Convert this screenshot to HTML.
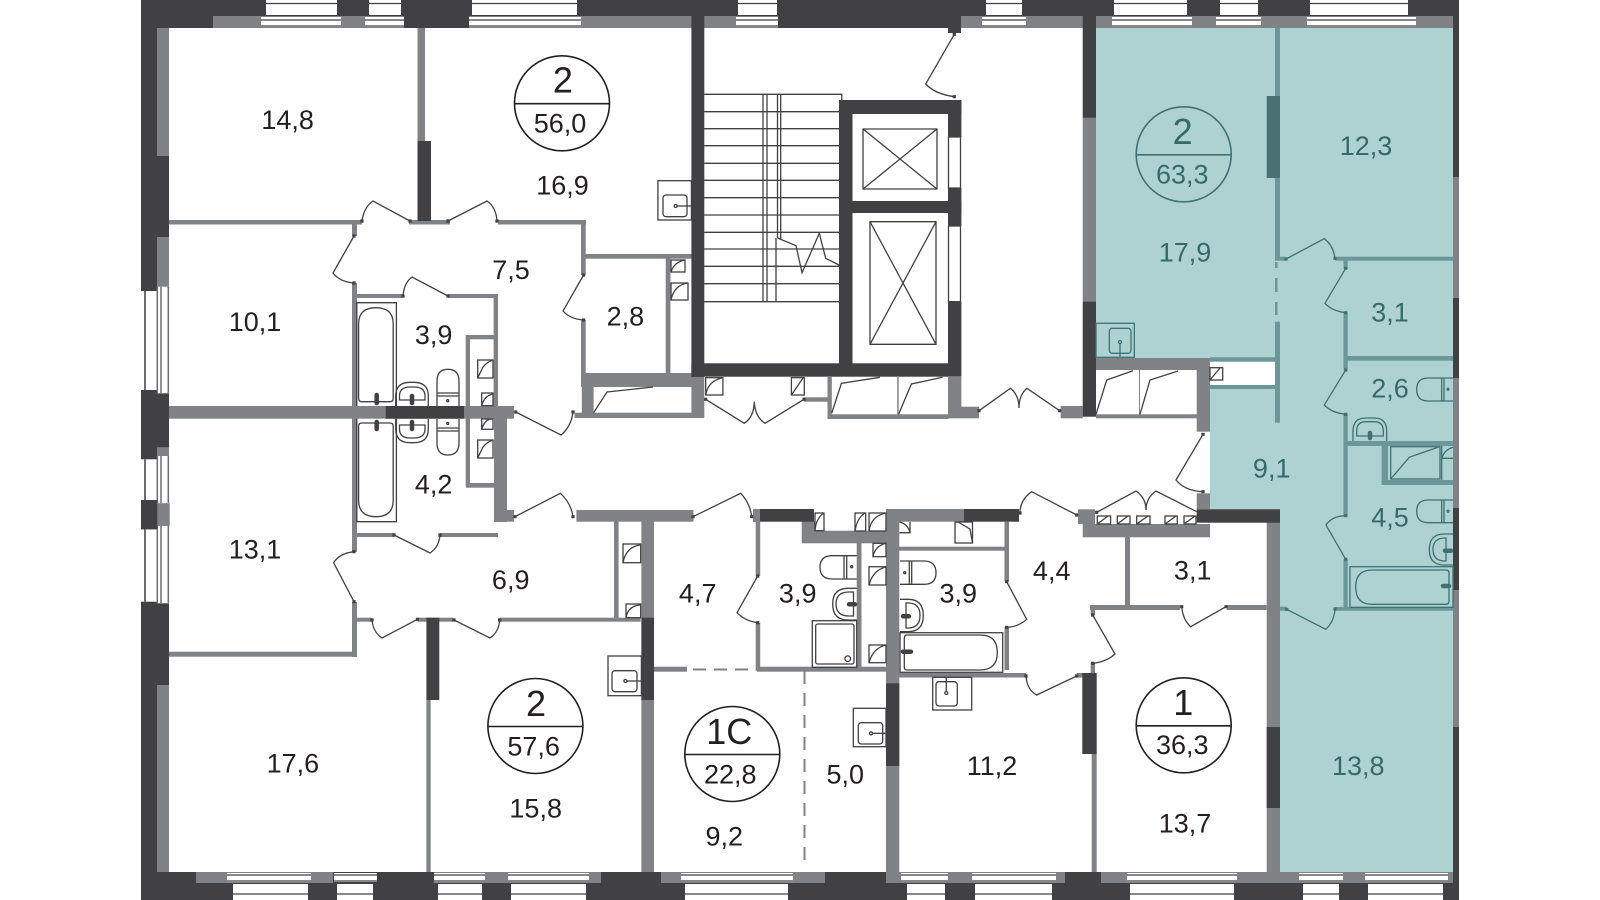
<!DOCTYPE html>
<html lang="ru"><head><meta charset="utf-8"><title>Floor plan</title>
<style>
html,body{margin:0;padding:0;background:#fff}
svg{display:block}
.d{fill:#414042}.g{fill:#808285}.w{fill:#fff}
.t{fill:#6b9798}.td{fill:#4a7071}
text{font-family:"Liberation Sans",sans-serif;font-size:27px;fill:#231f20;text-anchor:middle}
.tt text{fill:#38696a}
text.big{font-size:36px}
.s{fill:none;stroke:#414042;stroke-width:1.3}
.st{fill:none;stroke:#3f7173;stroke-width:1.3}
</style></head><body>
<svg width="1600" height="900" viewBox="0 0 1600 900" xmlns="http://www.w3.org/2000/svg">
<rect width="1600" height="900" fill="#fff"/>
<!-- teal apartment -->
<polygon points="1096,28 1453,28 1453,872 1280,872 1280,510 1210,510 1210,388 1276,388 1276,358 1096,358" fill="#aed2d2"/>

<!-- outer walls -->
<rect class="d" x="141" y="0" width="1318" height="16"/>
<rect class="d" x="141" y="16" width="72" height="12"/>
<rect class="g" x="213" y="16" width="1240" height="12"/>
<rect class="d" x="404" y="16" width="65" height="12"/>
<rect class="d" x="778" y="16" width="183" height="12"/>
<rect class="d" x="948" y="28" width="13" height="5"/>
<rect class="d" x="141" y="0" width="16" height="900"/>
<rect class="g" x="157" y="28" width="12" height="844"/>
<rect class="d" x="157" y="156" width="12" height="81"/>
<rect class="d" x="157" y="390" width="12" height="57.300"/>
<rect class="d" x="157" y="602" width="12" height="83"/>
<rect class="d" x="1453" y="0" width="6" height="28"/>
<rect class="g" x="1453" y="28" width="6" height="844"/>
<rect class="d" x="1453" y="28" width="6" height="149"/>
<rect class="d" x="1453" y="298" width="6" height="80"/>
<rect class="d" x="1453" y="508" width="6" height="82"/>
<rect class="d" x="1453" y="727" width="6" height="173"/>
<!-- bottom -->
<rect class="d" x="141" y="872" width="1318" height="28"/>
<rect class="g" x="196" y="872" width="137" height="11"/>
<rect class="g" x="434" y="872" width="167" height="11"/>
<rect class="g" x="661" y="872" width="164" height="11"/>
<rect class="g" x="886" y="872" width="179" height="11"/>
<rect class="g" x="1101" y="872" width="352" height="11"/>

<!-- left windows -->
<rect class="w" x="141" y="291" width="16.300" height="99"/>
<rect class="w" x="157.300" y="286.700" width="11.700" height="106.600"/>
<rect class="w" x="141" y="459.300" width="16.300" height="40.700"/>
<rect class="w" x="157.300" y="456" width="11.700" height="47.300"/>
<rect class="w" x="141" y="529.300" width="16.300" height="72.400"/>
<rect class="w" x="157.300" y="526" width="11.700" height="77.300"/>
<path fill="none" stroke="#6d6e71" stroke-width="2" d="M145 291V390M145 459.300V500M145 529.300V602"/>
<path fill="none" stroke="#6d6e71" stroke-width="1.500" d="M157.300 286.700V393M161 286.700V393M168.300 286.700V393M157.300 456V503M161 456V503M168.300 456V503M157.300 526V603M161 526V603M168.300 526V603"/>
<rect class="d" x="141.500" y="500" width="15.800" height="29.300"/>
<rect class="g" x="157.300" y="447.300" width="11.700" height="8.700"/>
<rect class="g" x="158" y="503.300" width="11.700" height="22.700"/>

<!-- top windows -->
<g class="w">
<rect x="266" y="0" width="71" height="15"/><rect x="369" y="0" width="32" height="15"/><rect x="472" y="0" width="105" height="15"/>
<rect x="738" y="0" width="39" height="15"/><rect x="986" y="0" width="36" height="15"/><rect x="1114" y="0" width="73" height="15"/>
<rect x="1220" y="0" width="38" height="15"/><rect x="1310" y="0" width="98" height="15"/>
<rect x="261" y="17" width="80" height="10"/><rect x="365" y="17" width="39" height="10"/><rect x="469" y="17" width="112" height="10"/>
<rect x="736" y="17" width="42" height="10"/><rect x="982" y="17" width="44" height="10"/><rect x="1112" y="17" width="80" height="10"/>
<rect x="1216" y="17" width="45" height="10"/><rect x="1307" y="17" width="109" height="10"/>
</g>
<path class="s" d="M266 3.500H337M369 3.500H401M472 3.500H577M738 3.500H777M986 3.500H1022M1114 3.500H1187M1220 3.500H1258M1310 3.500H1408"/>
<path class="s" stroke-width="1" d="M261 20H341M365 20H404M469 20H581M736 20H778M982 20H1026M1112 20H1192M1216 20H1261M1307 20H1416M261 26H341M365 26H404M469 26H581M736 26H778M982 26H1026M982 20H1026M1112 26H1192M1216 26H1261M1307 26H1416"/>

<!-- bottom windows -->
<g class="w">
<rect x="227" y="873" width="84" height="9"/><rect x="334" y="873" width="43" height="9"/><rect x="434" y="873" width="51" height="9"/><rect x="508" y="873" width="81" height="9"/>
<rect x="681" y="873" width="112" height="9"/><rect x="901" y="873" width="47" height="9"/><rect x="972" y="873" width="84" height="9"/>
<rect x="1127" y="873" width="110" height="9"/><rect x="1299" y="873" width="44" height="9"/><rect x="1365" y="873" width="83" height="9"/>
<rect x="233" y="884" width="75" height="16"/><rect x="337" y="884" width="36" height="16"/><rect x="438" y="884" width="44" height="16"/><rect x="511" y="884" width="75" height="16"/>
<rect x="685" y="884" width="103" height="16"/><rect x="907" y="884" width="38" height="16"/><rect x="975" y="884" width="77" height="16"/>
<rect x="1130" y="884" width="104" height="16"/><rect x="1303" y="884" width="36" height="16"/><rect x="1368" y="884" width="75" height="16"/>
</g>
<path class="s" stroke-width="1" d="M227 875H311M334 875H377M434 875H485M508 875H589M681 875H793M901 875H948M972 875H1056M1127 875H1237M1299 875H1343M1365 875H1448M227 881H311M334 881H377M434 881H485M508 881H589M681 881H793M901 881H948M972 881H1056M1127 881H1237M1299 881H1343M1365 881H1448M233 894H308M337 894H373M438 894H482M511 894H586M685 894H788M907 894H945M975 894H1052M1130 894H1234M1303 894H1339M1368 894H1443"/>

<!-- interior walls grey -->
<g class="g">
<rect x="417.500" y="28" width="7.500" height="113"/>
<rect x="169" y="220" width="193" height="4.500"/><rect x="409" y="220" width="41" height="4.500"/><rect x="498" y="220" width="88" height="4.500"/>
<rect x="581" y="220" width="4.700" height="55"/><rect x="581" y="320" width="4.700" height="55"/>
<rect x="585" y="254" width="107" height="4.700"/><rect x="665.700" y="256" width="4.700" height="118"/>
<rect x="581" y="373" width="111" height="14"/><rect x="581.800" y="373" width="11.800" height="45"/><rect x="574.600" y="412.700" width="117" height="5.300"/>
<rect x="352" y="224" width="5" height="12"/><rect x="352" y="283" width="5" height="123"/>
<rect x="352" y="294" width="51" height="4"/><rect x="448" y="294" width="50" height="4"/><rect x="493.600" y="294" width="4.400" height="112"/>
<rect x="465.700" y="335" width="4.300" height="152"/><rect x="466" y="335" width="28" height="4.300"/><rect x="466" y="483" width="28" height="4.700"/>
<rect x="169" y="406" width="345" height="12.700"/>
<rect x="494" y="418" width="13" height="104"/><rect x="494" y="510" width="20" height="11.700"/>
<rect x="576.400" y="510" width="117" height="11.700"/>
<rect x="355.700" y="533" width="38.300" height="4"/><rect x="440" y="533" width="58" height="4"/>
<rect x="352" y="418" width="5" height="134"/><rect x="352" y="602" width="5" height="55"/>
<rect x="169" y="651.700" width="188" height="5"/>
<rect x="352" y="617.700" width="20" height="4"/><rect x="417.500" y="617.700" width="35.500" height="4"/><rect x="499.600" y="617.700" width="141" height="4"/>
<rect x="614" y="521" width="4.600" height="97"/>
<rect x="641.400" y="521" width="12.600" height="351"/>
<rect x="426.400" y="700" width="4.300" height="172"/>
<rect x="654" y="666.700" width="33" height="5"/>
<rect x="755.700" y="509" width="4.500" height="67"/><rect x="755.700" y="622.700" width="4.500" height="48"/><rect x="753" y="509" width="7" height="13"/>
<rect x="757" y="666.700" width="129" height="5"/>
<rect x="801.700" y="521" width="13.300" height="22"/><rect x="802" y="530.700" width="84" height="12.600"/>
<rect x="856.700" y="543" width="4.800" height="124"/>
<rect x="886" y="509" width="13.300" height="374"/><rect x="899" y="509" width="65" height="12.700"/>
<rect x="899" y="546.700" width="108" height="4"/>
<rect x="1004.500" y="521.700" width="4.500" height="60"/><rect x="1004.500" y="627" width="4.500" height="43"/>
<rect x="899" y="673" width="127" height="4.500"/><rect x="1076.700" y="673" width="10" height="4.500"/>
<rect x="1091.700" y="754" width="5" height="118"/>
<rect x="1090.700" y="606" width="4.300" height="9"/><rect x="1090.700" y="663" width="4.300" height="10"/>
<rect x="1090" y="605" width="90" height="5"/><rect x="1226.700" y="605" width="40" height="5"/>
<rect x="1125" y="536" width="5" height="69"/>
<rect x="1082.700" y="524" width="127.300" height="13.300"/>
<rect x="1078" y="509.300" width="17" height="14.700"/>
<rect x="1196.700" y="493.300" width="13.300" height="16"/>
<rect x="1266.700" y="522" width="13.300" height="361"/>
<rect x="1196.700" y="358" width="13.300" height="73.700"/>
<rect x="1096" y="358" width="101" height="12"/>
<rect x="1096" y="414.300" width="101" height="4"/><rect x="1060.700" y="406" width="22" height="12.300"/>
<rect x="1082.700" y="117" width="13.300" height="185"/>
<rect x="691.400" y="377" width="12.900" height="41"/>
<rect x="804" y="397.300" width="24" height="4.400"/>
<rect x="827.500" y="377" width="4.300" height="41"/><rect x="827.500" y="414.300" width="121" height="4.700"/>
<rect x="897.200" y="377" width="1.500" height="38"/>
<rect x="948" y="377" width="13.400" height="41"/><rect x="948" y="406.700" width="31" height="11.600"/>
<rect x="1139" y="370" width="1" height="45"/>
</g>
<rect class="w" x="1210" y="361.700" width="65.700" height="23.300"/>
<!-- interior dark -->
<g class="d">
<rect x="417.500" y="141" width="13.500" height="80"/>
<rect x="385.700" y="406" width="78.300" height="12.700"/>
<rect x="426.400" y="617.700" width="12.900" height="82.300"/>
<rect x="641.400" y="617.700" width="12.600" height="82.300"/>
<rect x="760" y="509" width="54" height="12.700"/>
<rect x="964" y="509" width="55" height="12.700"/>
<rect x="886" y="683.300" width="13.300" height="82.700"/>
<rect x="1082.300" y="673" width="14.400" height="81"/>
<rect x="1196.700" y="509.300" width="83.300" height="13.400"/>
<rect x="1266.700" y="727" width="13.300" height="81"/>
<rect x="1082.700" y="0" width="13.300" height="117.700"/><rect x="1082.700" y="301.700" width="13.300" height="115"/>
<rect x="691.400" y="0" width="12.900" height="377"/>
<rect x="691.400" y="363.300" width="270" height="13.400"/>
<rect x="839" y="100" width="122.400" height="14"/>
<rect x="839" y="100" width="13.500" height="264"/>
<rect x="839" y="201" width="122.400" height="12"/>
<rect x="948" y="100" width="13.400" height="37"/><rect x="948" y="188" width="13.400" height="38"/><rect x="948" y="301.700" width="13.400" height="62"/>
</g>
<path class="s" d="M948.500 137H960.500V188H948.500ZM948.500 226H960.500V301.700H948.500Z"/>
<!-- teal walls -->
<g class="t">
<rect x="1275" y="28" width="5" height="68"/><rect x="1275" y="178" width="5" height="82"/>
<rect x="1275" y="256.700" width="11" height="4"/><rect x="1335" y="256.700" width="118" height="4"/>
<rect x="1275" y="262" width="2.500" height="6"/><rect x="1275" y="278" width="2.500" height="14"/><rect x="1275" y="302" width="2.500" height="13"/>
<rect x="1275" y="321.700" width="5" height="101"/>
<rect x="1210" y="385" width="70" height="4"/><rect x="1210" y="357.300" width="70" height="4.400"/>
<rect x="1343.500" y="260" width="4.200" height="9"/><rect x="1343.500" y="312.700" width="4.200" height="57"/><rect x="1343.500" y="414" width="4.200" height="102"/><rect x="1343.500" y="559" width="4.200" height="48"/>
<rect x="1347" y="356" width="106" height="4.700"/><rect x="1345" y="441" width="108" height="5"/>
<rect x="1335" y="607" width="118" height="3.700"/><rect x="1280" y="606.700" width="6.700" height="4"/>
<rect x="1381.700" y="441.700" width="6.300" height="43"/><rect x="1381.700" y="480" width="71.300" height="5"/>
</g>
<rect class="td" x="1266.700" y="96" width="13.300" height="82"/>

<!-- dashed -->
<path d="M693 669.500H757" stroke="#808285" stroke-width="2" stroke-dasharray="13 8" fill="none"/>
<path d="M804.500 671V868" stroke="#808285" stroke-width="2" stroke-dasharray="13 9" fill="none"/>

<!-- stairs -->
<path class="s" d="M704 94.300H841.800V100M704 111.700H839M704 128.700H839M704 145.700H839M704 163.300H839M704 180.300H839M704 197.700H839M704 215H839M704 232.300H839M704 249H839M704 266.300H839M704 283.700H839M704 301.700H839"/>
<path class="s" d="M763 94.300V301.700M767 94.300V301.700M776 238V301.700M777.500 94.300V238M780.700 94.300V240"/>
<path class="s" d="M777.500 238L796 245.700L802 272.700L819.300 233.300L825.700 258.300L839 265"/>
<!-- lifts -->
<path class="s" d="M863 129H937V189H863ZM863 129L937 189M937 129L863 189M870 221.700H936V344.300H870ZM870 221.700L936 344.300M936 221.700L870 344.300"/>

<!-- fixtures: black -->
<g class="s">
<!-- kitchens -->
<rect x="657.900" y="180.700" width="33.500" height="39.300"/><rect x="663" y="195" width="24" height="21.700" rx="3"/><path d="M677 206H691"/><circle cx="675.700" cy="206" r="1.500"/>
<rect x="608" y="656" width="33.400" height="39.700"/><rect x="612" y="670.700" width="25" height="21" rx="3"/><path d="M627 681H641"/><circle cx="625.400" cy="681" r="1.500"/>
<rect x="853.300" y="708.300" width="32.700" height="38.400"/><rect x="858.300" y="722.700" width="24.400" height="21.300" rx="3"/><path d="M873 733.300H886"/><circle cx="871" cy="733.300" r="1.500"/>
<rect x="932.700" y="677.300" width="39" height="32.700"/><rect x="936" y="681.700" width="21.300" height="24.300" rx="3"/><path d="M946.300 677V692"/><circle cx="946.300" cy="693" r="1.500"/>
<!-- upper bath -->
<path d="M356.800 406V302.700H396.400V406"/><path d="M358.600 324Q358.600 307.700 376 307.700Q393.200 307.700 393.200 324V398Q393.200 401.700 390 401.700H361.800Q358.600 401.700 358.600 398Z"/>
<path d="M395.700 406V396Q395.700 382.300 410 382.300H414Q428.300 382.300 428.300 396V406"/><path d="M399.500 400V396Q399.500 387 410 387H414Q425 387 425 396V400Z"/>
<path d="M437 406V381Q437 369.300 447.800 369.300Q459 369.300 459 381V406M437 393H459M437 396H459"/><circle cx="447.700" cy="400.700" r="1"/>
<!-- lower bath -->
<path d="M356.800 418.700V521.700H396.400V418.700"/><path d="M358.600 426Q358.600 423 361.800 423H390Q393.200 423 393.200 426V500Q393.200 516.700 376 516.700Q358.600 516.700 358.600 500Z"/>
<path d="M395.700 419V429Q395.700 442.700 410 442.700H414Q428.300 442.700 428.300 429V419"/><path d="M399.500 425V429Q399.500 438 410 438H414Q425 438 425 429V425Z"/>
<path d="M437 419V443Q437 455 447.800 455Q459 455 459 443V419M437 428H459M437 431H459"/><circle cx="447.700" cy="423.500" r="1"/>
<!-- left bath 3,9 -->
<path d="M856.700 555.700H832Q820 555.700 820 567.300Q820 579 832 579H856.700M844 555.700V579M846.700 555.700V579"/><circle cx="851.700" cy="566.700" r="1"/>
<path d="M856.700 588.300H848Q832.700 588.300 832.700 604Q832.700 620 848 620H856.700"/><path d="M853.500 592H849Q836 592 836 604Q836 616 849 616H853.500Z"/>
<rect x="812.300" y="620.700" width="44.400" height="46.600"/><rect x="815.700" y="624" width="38.300" height="40" rx="2"/><circle cx="847.700" cy="658.700" r="2.800"/>
<!-- right bath 3,9 -->
<path d="M900 561H924Q936 561 936 572.700Q936 584.300 924 584.300H900M909.300 561V584.300M911.700 561V584.300"/><circle cx="904.700" cy="572.700" r="1"/>
<path d="M900 599.300H908Q923.300 599.300 923.300 615.500Q923.300 631.700 908 631.700H900"/><path d="M906 603H908Q920 603 920 615.500Q920 628 908 628H906Z"/>
<rect x="900" y="632.700" width="102.700" height="39.600"/><path d="M904.300 638Q904.300 635 907 635H980Q997.300 635 997.300 652.500Q997.300 670 980 670H907Q904.300 670 904.300 667Z"/>
<!-- closets -->
<rect x="477.700" y="360" width="15.300" height="18"/><path d="M477.700 378L483 367Q487 362 493 360"/>
<rect x="481.700" y="393" width="11.300" height="12.700"/><path d="M481.700 405.700Q484 396 493 394"/>
<rect x="481.700" y="419" width="11.300" height="10.300"/><path d="M481.700 429.300Q484 421 490 419"/>
<rect x="477.700" y="440" width="15.300" height="18"/><path d="M477.700 458L483 447Q487 442 493 440"/>
<rect x="623" y="544" width="17.700" height="18.700"/><path d="M623 562.700Q626 547 640 545"/>
<rect x="626" y="604" width="14.700" height="13.700"/><path d="M626 617.700Q628 606 640 605"/>
<rect x="671" y="260" width="14" height="12"/><path d="M671 272Q674 262 685 260"/>
<rect x="671" y="283" width="17" height="17"/><path d="M671 300Q674 285 688 283"/>
<rect x="705.700" y="377.700" width="17.200" height="17.300"/><path d="M705.700 395Q708 381 722 378"/>
<rect x="791.400" y="377.700" width="12.900" height="17.300"/><path d="M791.400 395L803 378"/>
<rect x="815" y="513" width="9" height="17.700"/><path d="M815 530.700Q816 518 824 513"/>
<rect x="855" y="513" width="10.700" height="18"/><path d="M855 531Q857 518 865 513"/>
<rect x="869" y="513" width="17" height="18"/><path d="M869 531Q871 516 886 513"/>
<rect x="873" y="543.300" width="13" height="13.400"/><path d="M873 556.700Q875 546 886 543.300"/>
<rect x="869" y="566.700" width="17" height="18.300"/><path d="M869 585Q873 570 886 567"/>
<rect x="869" y="645" width="17" height="17.700"/><path d="M869 662.700Q873 648 886 645"/>
<path d="M899.500 532.700H910V522M899.500 522Q908 524 910 532.700"/>
<rect x="955" y="522" width="17.500" height="21"/><path d="M958 522L970 529L972.500 543"/>
<rect x="1097.300" y="516" width="13.300" height="8"/><path d="M1097.300 524L1108 516"/>
<rect x="1117.300" y="516" width="12.700" height="8"/><path d="M1117.300 524L1128 516"/>
<rect x="1136.700" y="516" width="13.300" height="8"/><path d="M1136.700 524L1148 516"/>
<rect x="1165" y="516" width="12.300" height="8"/><path d="M1165 524L1176 516"/>
<rect x="1184" y="516" width="12" height="8"/><path d="M1184 524L1195 516"/>
<rect x="1210" y="367.700" width="12.700" height="12.300"/><path d="M1210 380L1220 368"/>
<!-- closet swing -->
<path d="M593.600 412.700L607 392L653 387"/>
<path d="M831.800 413L841.400 383.300L880 377.300M898.600 414.300L911.400 384L942.500 377.300"/>
<path d="M1096 414.300L1106.700 380L1133 370.700M1140 414.300L1150 380L1178 371"/>
<!-- doors -->
<path d="M410 221L373 201Q364 207 362 221M448 221L487 201Q496 207 497 221M354 236L333 273Q340 282 354 283M448 296L412 277Q404 283 403 296M583.600 275L563 311Q570 319 583.600 320M515.700 412L561 435Q571 427 573 412M515 516.700L560.400 493.300Q571 503 573 516.700M394 535L430 553Q439 547 440 535M354 601.700L333.600 562.700Q340 553 354 551.700M417.500 619.300L382 638Q373 632 372 620M454 620L490 638Q499 632 499.600 620M693 516.700L740.700 493.300Q750 503 751.700 516.700M757.700 576L737 612.700Q745 621 757.700 622.700M1076.700 515L1031.700 491.700Q1020 500 1020 513M1006.700 581.700L1026.700 619.300Q1018 627 1006.700 627.300M1076.700 676L1036.700 695Q1027 690 1026 676M1092.700 615L1115 654Q1106 662 1092.700 663.300M1226 606.700L1190.700 626.700Q1183 620 1181.700 606.700M1096.700 512.300L1136 491Q1146 498 1146 510Q1146 498 1156 491L1196.700 511.700M1203 434.300L1176 480Q1185 491 1203 491.700M705.700 399.300L744.300 423.300Q754 417 754.300 401.700Q755 417 765 423.300L804 399.300M979 410.700L1010.400 388.300Q1019 395 1019 408Q1019 395 1027 388.300L1059.600 410.700M954.300 34.300L925.700 84Q935 94 954.300 96.700"/>
</g>
<!-- hinges -->
<path d="M362 221h.01M410 221h.01M448 221h.01M497 221h.01M354 236h.01M354 283h.01M403 296h.01M448 296h.01M583.600 275h.01M583.600 320h.01M515.700 412h.01M573 412h.01M515 516.700h.01M573 516.700h.01M394 535h.01M440 535h.01M354 601.700h.01M354 551.700h.01M372 620h.01M417.500 619.300h.01M454 620h.01M499.600 620h.01M693 516.700h.01M751.700 516.700h.01M757.700 576h.01M757.700 622.700h.01M1076.700 515h.01M1020 513h.01M1006.700 581.700h.01M1006.700 627.300h.01M1076.700 676h.01M1026 676h.01M1092.700 615h.01M1092.700 663.300h.01M1226 606.700h.01M1181.700 606.700h.01M1096.700 512.300h.01M1203 491.700h.01M1203 434.300h.01M705.700 399.300h.01M804 399.300h.01M979 410.700h.01M1059.600 410.700h.01M954.300 34.300h.01M954.300 96.700h.01" stroke="#414042" stroke-width="3.200" stroke-linecap="square" fill="none"/>
<!-- taps dark -->
<path d="M376.700 395V403M412 396V403M376.700 422V429M412 422V429M849 604.300H855M903 616.300H909M903 651.700H911" stroke="#414042" stroke-width="4.500" stroke-linecap="round" fill="none"/>

<!-- teal fixtures -->
<g class="st">
<rect x="1096" y="323.300" width="38.300" height="34"/><rect x="1109.300" y="328.300" width="21.700" height="25" rx="3"/><path d="M1120 343V357"/><circle cx="1120" cy="342" r="1.500"/>
<path d="M1453 378H1428Q1416.700 378 1416.700 389.500Q1416.700 401 1428 401H1453M1441.700 378V401M1444 378V401"/><circle cx="1448" cy="389.300" r="1"/>
<path d="M1353 441V431Q1353 418 1366 418H1374Q1386.700 418 1386.700 431V441"/><path d="M1356.700 436V431Q1356.700 421.700 1366 421.700H1374Q1383.300 421.700 1383.300 431V436Z"/>
<path d="M1453 500H1428Q1416.700 500 1416.700 511.300Q1416.700 522.700 1428 522.700H1453M1441.700 500V522.700M1444 500V522.700"/><circle cx="1448" cy="511.300" r="1"/>
<path d="M1453 534H1444Q1429.300 534 1429.300 549.500Q1429.300 565 1444 565H1453"/><path d="M1446 538H1445Q1433 538 1433 549.500Q1433 561 1445 561H1446Z"/>
<rect x="1350" y="566.700" width="103" height="40.600"/><path d="M1449 573Q1449 570 1446 570H1372Q1355.700 570 1355.700 587Q1355.700 604.300 1372 604.300H1446Q1449 604.300 1449 601Z"/>
<rect x="1390.700" y="446.700" width="49.300" height="32.300"/>
<path d="M1390.700 479L1409.300 457.300L1439.300 446.700M1442 458.300Q1444 450 1453 447.300M1442 458.300H1453M1441.700 446V480"/>
<!-- teal doors -->
<path d="M1286 259L1324.300 238.700Q1333 245 1335 258.300M1345.700 268.300L1325 303.300Q1332 311 1345.700 312.700M1345.700 370L1324.300 405Q1332 413 1345.700 414.300M1345.700 559.300L1326 525Q1332 516 1345.700 515.700M1286.700 609.300L1325.700 629.300Q1334 622 1335 609"/>
</g>
<path d="M1286 259h.01M1335 258.300h.01M1345.700 268.300h.01M1345.700 312.700h.01M1345.700 370h.01M1345.700 414.300h.01M1345.700 559.300h.01M1345.700 515.700h.01M1286.700 609.300h.01M1335 609h.01" stroke="#3f7173" stroke-width="3.200" stroke-linecap="square" fill="none"/>
<path d="M1370 433V438M1445 550.700H1451M1443 586H1449" stroke="#3f7173" stroke-width="4.500" stroke-linecap="round" fill="none"/>

<!-- circles -->
<g fill="none" stroke="#231f20" stroke-width="1.600">
<circle cx="562" cy="103.300" r="47.500"/><path d="M514.500 103.700H609.500"/>
<circle cx="535.400" cy="726" r="47.500"/><path d="M488 726.500H583"/>
<circle cx="732.300" cy="754" r="47.500"/><path d="M685 754.500H780"/>
<circle cx="1183.700" cy="725.300" r="47.500"/><path d="M1136 725.800H1231"/>
</g>
<g fill="none" stroke="#3f7173" stroke-width="1.600">
<circle cx="1183.700" cy="154.300" r="47.500"/><path d="M1136 154.800H1231"/>
</g>

<!-- labels -->
<text x="287.600" y="129">14,8</text>
<text x="560" y="132.700">56,0</text>
<text class="big" x="562.900" y="92.700">2</text>
<text x="562.500" y="194.300">16,9</text>
<text x="511" y="279">7,5</text>
<text x="255" y="331">10,1</text>
<text x="433.600" y="344">3,9</text>
<text x="625.400" y="325.700">2,8</text>
<text x="433.600" y="493.300">4,2</text>
<text x="255" y="558.300">13,1</text>
<text x="510.700" y="589">6,9</text>
<text x="292.900" y="772.300">17,6</text>
<text x="535.700" y="817.700">15,8</text>
<text class="big" x="536" y="716">2</text>
<text x="533.600" y="755.700">57,6</text>
<text class="big" x="729.300" y="744">1C</text>
<text x="730.300" y="783.300">22,8</text>
<text x="724.300" y="845.700">9,2</text>
<text x="845.300" y="783.300">5,0</text>
<text x="992" y="775">11,2</text>
<text x="697.700" y="602.300">4,7</text>
<text x="797.700" y="602.300">3,9</text>
<text x="958.300" y="602.300">3,9</text>
<text x="1051.700" y="580">4,4</text>
<text x="1192.700" y="579.300">3,1</text>
<text class="big" x="1183.300" y="715">1</text>
<text x="1182.300" y="754">36,3</text>
<text x="1185" y="832.300">13,7</text>
<g class="tt">
<text class="big" x="1182.700" y="144">2</text>
<text x="1182.300" y="183.300">63,3</text>
<text x="1185" y="261.700">17,9</text>
<text x="1366" y="155">12,3</text>
<text x="1390" y="321.700">3,1</text>
<text x="1390" y="397.700">2,6</text>
<text x="1271.700" y="477.300">9,1</text>
<text x="1390" y="526.700">4,5</text>
<text x="1358.300" y="775">13,8</text>
</g>
</svg>
</body></html>
